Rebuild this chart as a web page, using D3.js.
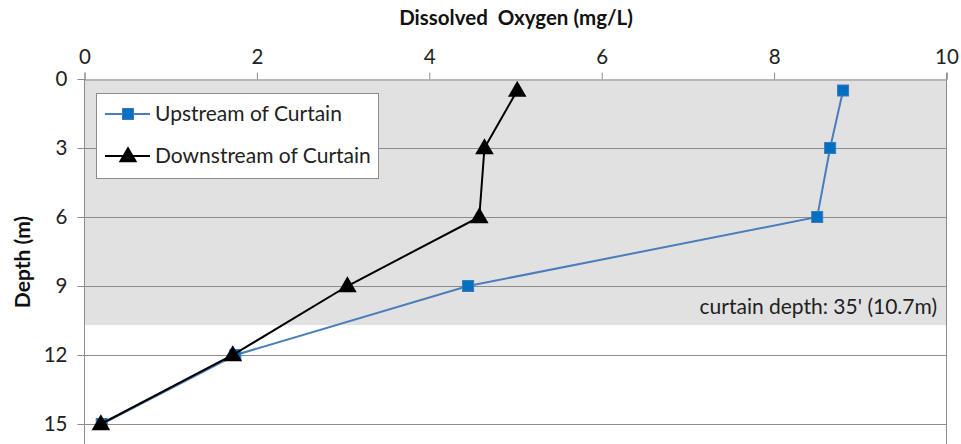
<!DOCTYPE html>
<html><head><meta charset="utf-8">
<script src="https://cdn.jsdelivr.net/npm/d3@7"></script>
<style>body{margin:0;background:#fff}svg{display:block;font-family:Lato,"Open Sans",sans-serif}</style>
</head><body><svg id="c" width="961" height="444"></svg>
<script>
const depths = [0.5, 3, 6, 9, 12, 15];
const upstream = [8.8, 8.65, 8.5, 4.45, 1.75, 0.2];
const downstream = [5.02, 4.64, 4.58, 3.05, 1.72, 0.19];
const seriesNames = ["Upstream of Curtain", "Downstream of Curtain"];
const xTicks = [0, 2, 4, 6, 8, 10];
const yTicks = [0, 3, 6, 9, 12, 15];
const curtainDepth = 10.7;
const curtainLabel = "curtain depth: 35' (10.7m)";

const svg = d3.select("#c");
const x = d3.scaleLinear().domain([0, 10]).range([84.5, 946.5]);
const y = d3.scaleLinear().domain([0, 15]).range([79, 424]);

// curtain band
svg.append("rect").attr("x", x(0)).attr("y", y(0)).attr("width", x(10) - x(0))
  .attr("height", y(curtainDepth) - y(0)).attr("fill", "#e1e1e1");

// gridlines
svg.append("g").selectAll("line").data(yTicks.slice(1)).join("line")
  .attr("x1", x(0)).attr("x2", x(10)).attr("y1", d => Math.round(y(d)) + 0.5).attr("y2", d => Math.round(y(d)) + 0.5)
  .attr("stroke", "#8c8c8c").attr("stroke-width", 1);

// top axis
const xAxis = svg.append("g").attr("transform", `translate(0,${y(0) + 0.5})`)
  .call(d3.axisTop(x).tickValues(xTicks).tickFormat(d3.format("d")).tickSize(7).tickPadding(9));
xAxis.select(".domain").attr("stroke", "#8c8c8c");
xAxis.selectAll(".tick line").attr("stroke", "#8c8c8c");
xAxis.selectAll("text").attr("font-size", 20.5).attr("fill", "#222").attr("font-family", "Lato");

// left axis
const yAxis = svg.append("g").attr("transform", `translate(${x(0)},0)`)
  .call(d3.axisLeft(y).tickValues(yTicks).tickFormat(d3.format("d")).tickSize(7).tickPadding(10));
yAxis.select(".domain").remove();
yAxis.selectAll(".tick line").attr("stroke", "#8c8c8c");
yAxis.selectAll("text").attr("font-size", 20.5).attr("fill", "#222").attr("font-family", "Lato");
svg.append("line").attr("x1", x(0)).attr("x2", x(0)).attr("y1", y(0)).attr("y2", 444).attr("stroke", "#8c8c8c");
svg.append("line").attr("x1", x(10)).attr("x2", x(10)).attr("y1", y(0) - 6).attr("y2", 444).attr("stroke", "#8c8c8c");

// annotation
svg.append("text").attr("x", 937).attr("y", 314).attr("text-anchor", "end")
  .attr("font-size", 21).attr("fill", "#222").text(curtainLabel);

// titles
svg.append("text").attr("x", 516).attr("y", 25).attr("text-anchor", "middle").style("white-space", "pre")
  .attr("font-size", 20.5).attr("font-weight", "bold").attr("fill", "#111").text("Dissolved  Oxygen (mg/L)");
svg.append("text").attr("transform", "translate(30,262) rotate(-90)").attr("text-anchor", "middle")
  .attr("font-size", 21).attr("font-weight", "bold").attr("fill", "#111").text("Depth (m)");

const line = d3.line().x(d => x(d[0])).y(d => y(d[1]));
const up = upstream.map((v, i) => [v, depths[i]]);
const dn = downstream.map((v, i) => [v, depths[i]]);

svg.append("path").datum(up).attr("d", line).attr("fill", "none").attr("stroke", "#4a7ebb").attr("stroke-width", 2);
svg.append("g").selectAll("rect").data(up).join("rect")
  .attr("x", d => x(d[0]) - 5.5).attr("y", d => y(d[1]) - 5.5).attr("width", 11).attr("height", 11)
  .attr("fill", "#0070c0").attr("stroke", "#3c78c0").attr("stroke-width", 1);

svg.append("path").datum(dn).attr("d", line).attr("fill", "none").attr("stroke", "#000").attr("stroke-width", 2);
const tri = d3.symbol().type(d3.symbolTriangle).size(150);
svg.append("g").selectAll("path").data(dn).join("path")
  .attr("transform", d => `translate(${x(d[0])},${y(d[1]) + 1})`).attr("d", tri).attr("fill", "#000");

// legend
const lg = svg.append("g");
lg.append("rect").attr("x", 96.5).attr("y", 93.5).attr("width", 282).attr("height", 85)
  .attr("fill", "#fff").attr("stroke", "#8c8c8c");
const rows = [114, 156];
lg.append("line").attr("x1", 105).attr("x2", 150).attr("y1", rows[0]).attr("y2", rows[0]).attr("stroke", "#4a7ebb").attr("stroke-width", 2);
lg.append("rect").attr("x", 122.5).attr("y", rows[0] - 5.5).attr("width", 11).attr("height", 11).attr("fill", "#0070c0").attr("stroke", "#3c78c0");
lg.append("line").attr("x1", 105).attr("x2", 150).attr("y1", rows[1]).attr("y2", rows[1]).attr("stroke", "#000").attr("stroke-width", 2);
lg.append("path").attr("transform", `translate(128,${rows[1] + 1})`).attr("d", tri).attr("fill", "#000");
lg.selectAll("text.l").data(seriesNames).join("text").attr("class", "l")
  .attr("x", 155).attr("y", (d, i) => rows[i] + 7).attr("font-size", 21).attr("fill", "#222").text(d => d);
</script></body></html>
